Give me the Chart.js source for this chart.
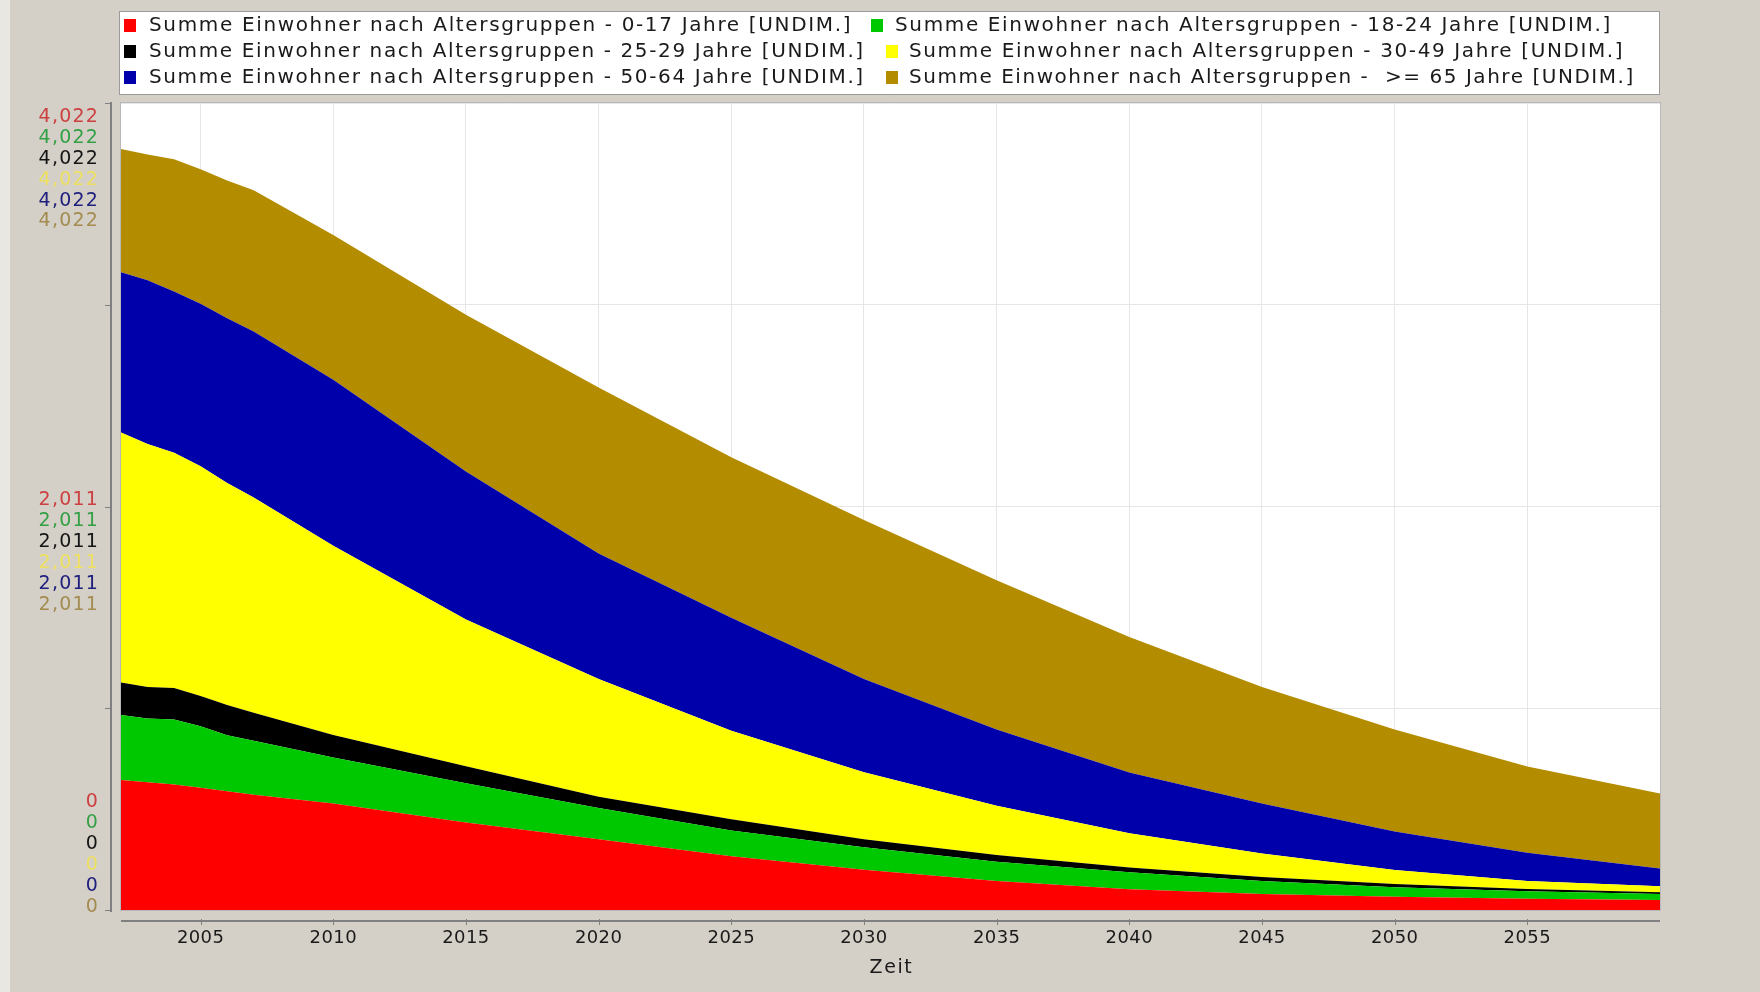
<!DOCTYPE html>
<html><head><meta charset="utf-8">
<script src="https://cdn.jsdelivr.net/npm/chart.js@4"></script>
<style>html,body{margin:0;padding:0;background:#d4d0c8;overflow:hidden}canvas{display:block}</style>
</head><body>
<div style="width:1760px;height:992px;position:relative"><canvas id="c" width="1760" height="992"></canvas></div>
<script>
// ---------------- data ----------------
const years = [2002,2003,2004,2005,2006,2007,2010,2015,2020,2025,2030,2035,2040,2045,2050,2055,2060];
const seriesLabels = [
  'Summe Einwohner nach Altersgruppen - 0-17 Jahre [UNDIM.]',
  'Summe Einwohner nach Altersgruppen - 18-24 Jahre [UNDIM.]',
  'Summe Einwohner nach Altersgruppen - 25-29 Jahre [UNDIM.]',
  'Summe Einwohner nach Altersgruppen - 30-49 Jahre [UNDIM.]',
  'Summe Einwohner nach Altersgruppen - 50-64 Jahre [UNDIM.]',
  'Summe Einwohner nach Altersgruppen -  >= 65 Jahre [UNDIM.]'
];
const age0to17  = [648,637,626,609,592,575,531,436,352,268,201,145,104,80,66,56,50];
const age18to24 = [324,318,324,307,279,268,229,196,156,128,112,95,84,64,48,38,30];
const age25to29 = [162,156,156,151,151,140,112,84,56,56,39,34,24,20,15,11,8];
const age30to49 = [1246,1212,1173,1145,1106,1073,944,732,587,441,335,246,171,117,70,40,30];
const age50to64 = [799,816,804,810,821,827,827,737,626,564,464,380,302,250,192,140,89];
const age65plus = [614,626,659,670,687,704,721,782,827,799,793,743,676,581,508,430,374];
const xTickYears = [2005,2010,2015,2020,2025,2030,2035,2040,2045,2050,2055];
const yTickValues = [0,1005.5,2011,3016.5,4022];
const yTickLabels = ['0','','2,011','','4,022'];
const xAxisTitle = 'Zeit';

// ---------------- styles ----------------
const fillColors = ['#ff0000','#00c800','#000000','#ffff00','#0000aa','#b48c00'];
const labelColors = ['#cc4040','#34a046','#141414','#eee060','#20207e','#a48c50'];
const FONT = '"DejaVu Sans", Verdana, sans-serif';
const allSeries = [age0to17, age18to24, age25to29, age30to49, age50to64, age65plus];

const datasets = allSeries.map((arr, i) => ({
  label: seriesLabels[i],
  data: years.map((x, j) => ({x, y: arr[j]})),
  backgroundColor: fillColors[i],
  borderColor: fillColors[i],
  borderWidth: 0,
  pointRadius: 0,
  tension: 0,
  fill: i === 0 ? 'origin' : '-1'
}));

function spacedText(ctx, text, x, y, target) {
  ctx.letterSpacing = '0px';
  const w = ctx.measureText(text).width;
  const sp = target ? (target - w) / text.length : 0;
  ctx.letterSpacing = sp.toFixed(2) + 'px';
  ctx.fillText(text, x, y);
  ctx.letterSpacing = '0px';
}

const decor = {
  id: 'decor',
  beforeDraw(chart) {
    const {ctx, chartArea: a} = chart;
    ctx.save();
    ctx.fillStyle = '#d4d0c8';
    ctx.fillRect(0, 0, chart.width, chart.height);
    ctx.fillStyle = '#e9e7e2';
    ctx.fillRect(0, 0, 10, chart.height);
    ctx.fillStyle = '#ffffff';
    ctx.fillRect(a.left, a.top, a.right - a.left, a.bottom - a.top);
    ctx.restore();
  },
  afterDraw(chart) {
    const {ctx, chartArea: a, scales} = chart;
    const xs = scales.x, ys = scales.y;
    ctx.save();
    // plot border
    ctx.strokeStyle = '#b8b8b8';
    ctx.lineWidth = 1;
    ctx.strokeRect(a.left - 0.5, a.top - 0.5, a.right - a.left + 1, a.bottom - a.top + 1);
    // axis lines
    const axX = 111;
    ctx.strokeStyle = '#808080';
    ctx.lineWidth = 2;
    ctx.beginPath();
    ctx.moveTo(axX, a.top - 1); ctx.lineTo(axX, a.bottom + 2);
    ctx.moveTo(a.left, a.bottom + 11); ctx.lineTo(a.right, a.bottom + 11);
    ctx.stroke();
    ctx.lineWidth = 1;
    ctx.beginPath();
    yTickValues.forEach(v => {
      const py = Math.round(ys.getPixelForValue(v)) + 0.5;
      ctx.moveTo(axX - 6, py); ctx.lineTo(axX, py);
    });
    xTickYears.forEach(v => {
      const px = Math.round(xs.getPixelForValue(v)) + 0.5;
      ctx.moveTo(px, a.bottom + 9); ctx.lineTo(px, a.bottom + 15);
    });
    ctx.stroke();
    // x tick labels
    ctx.fillStyle = '#1a1a1a';
    ctx.font = '18px ' + FONT;
    ctx.textAlign = 'center';
    ctx.textBaseline = 'middle';
    ctx.letterSpacing = '0.4px';
    xTickYears.forEach(v => {
      const px = xs.getPixelForValue(v);
      ctx.fillText(String(v), px, a.bottom + 28);
    });
    // axis title
    ctx.font = '19px ' + FONT;
    ctx.letterSpacing = '1.6px';
    ctx.fillText(xAxisTitle, (a.left + a.right) / 2 + 1, a.bottom + 58);
    // y tick labels (one per series, stacked)
    ctx.textAlign = 'right';
    ctx.font = '19px ' + FONT;
    ctx.letterSpacing = '1.2px';
    const lineH = 20.9;
    yTickValues.forEach((v, k) => {
      const txt = yTickLabels[k];
      if (!txt) return;
      const py = ys.getPixelForValue(v);
      let start = py - 6;
      const minStart = a.top + 14;
      const maxStart = a.bottom - 3 - lineH * 5;
      if (start < minStart) start = minStart;
      if (start > maxStart) start = maxStart;
      for (let i = 0; i < 6; i++) {
        ctx.fillStyle = labelColors[i];
        ctx.fillText(txt, 99, start + i * lineH);
      }
    });
    ctx.letterSpacing = '0px';
    // legend
    const lx = 119, ly = 11, lw = 1541, lh = 84;
    ctx.fillStyle = '#ffffff';
    ctx.fillRect(lx, ly, lw, lh);
    ctx.strokeStyle = '#9a9a9a';
    ctx.lineWidth = 1;
    ctx.strokeRect(lx + 0.5, ly + 0.5, lw - 1, lh - 1);
    const rows = [25, 51, 77];
    const items = [
      {sx: 124, tx: 149, row: 0, w: 703},
      {sx: 871, tx: 895, row: 0, w: 717},
      {sx: 124, tx: 149, row: 1, w: 716},
      {sx: 886, tx: 909, row: 1, w: 715},
      {sx: 124, tx: 149, row: 2, w: 716},
      {sx: 886, tx: 909, row: 2, w: 726}
    ];
    ctx.font = '20px ' + FONT;
    ctx.textAlign = 'left';
    items.forEach((it, i) => {
      const cy = rows[it.row];
      ctx.fillStyle = fillColors[i];
      ctx.fillRect(it.sx, cy - 6, 12, 13);
      ctx.fillStyle = '#1a1a1a';
      spacedText(ctx, seriesLabels[i], it.tx, cy + 1, it.w);
    });
    ctx.restore();
  }
};

new Chart(document.getElementById('c'), {
  type: 'line',
  data: {datasets},
  options: {
    responsive: false,
    animation: false,
    devicePixelRatio: 1,
    layout: {padding: {top: 103, right: 100, left: 0, bottom: 0}},
    plugins: {legend: {display: false}, tooltip: {enabled: false}},
    elements: {line: {borderWidth: 0}},
    scales: {
      x: {
        type: 'linear', min: 2002, max: 2060,
        afterBuildTicks: s => { s.ticks = xTickYears.map(v => ({value: v})); },
        afterFit: s => { s.height = 82; },
        ticks: {display: false},
        grid: {color: '#e6e6e6', lineWidth: 1, drawTicks: false},
        border: {display: false}
      },
      y: {
        stacked: true, min: 0, max: 4022,
        afterBuildTicks: s => { s.ticks = yTickValues.map(v => ({value: v})); },
        afterFit: s => { s.width = 121; },
        ticks: {display: false},
        grid: {color: '#e6e6e6', lineWidth: 1, drawTicks: false},
        border: {display: false}
      }
    }
  },
  plugins: [decor]
});
</script>
</body></html>
